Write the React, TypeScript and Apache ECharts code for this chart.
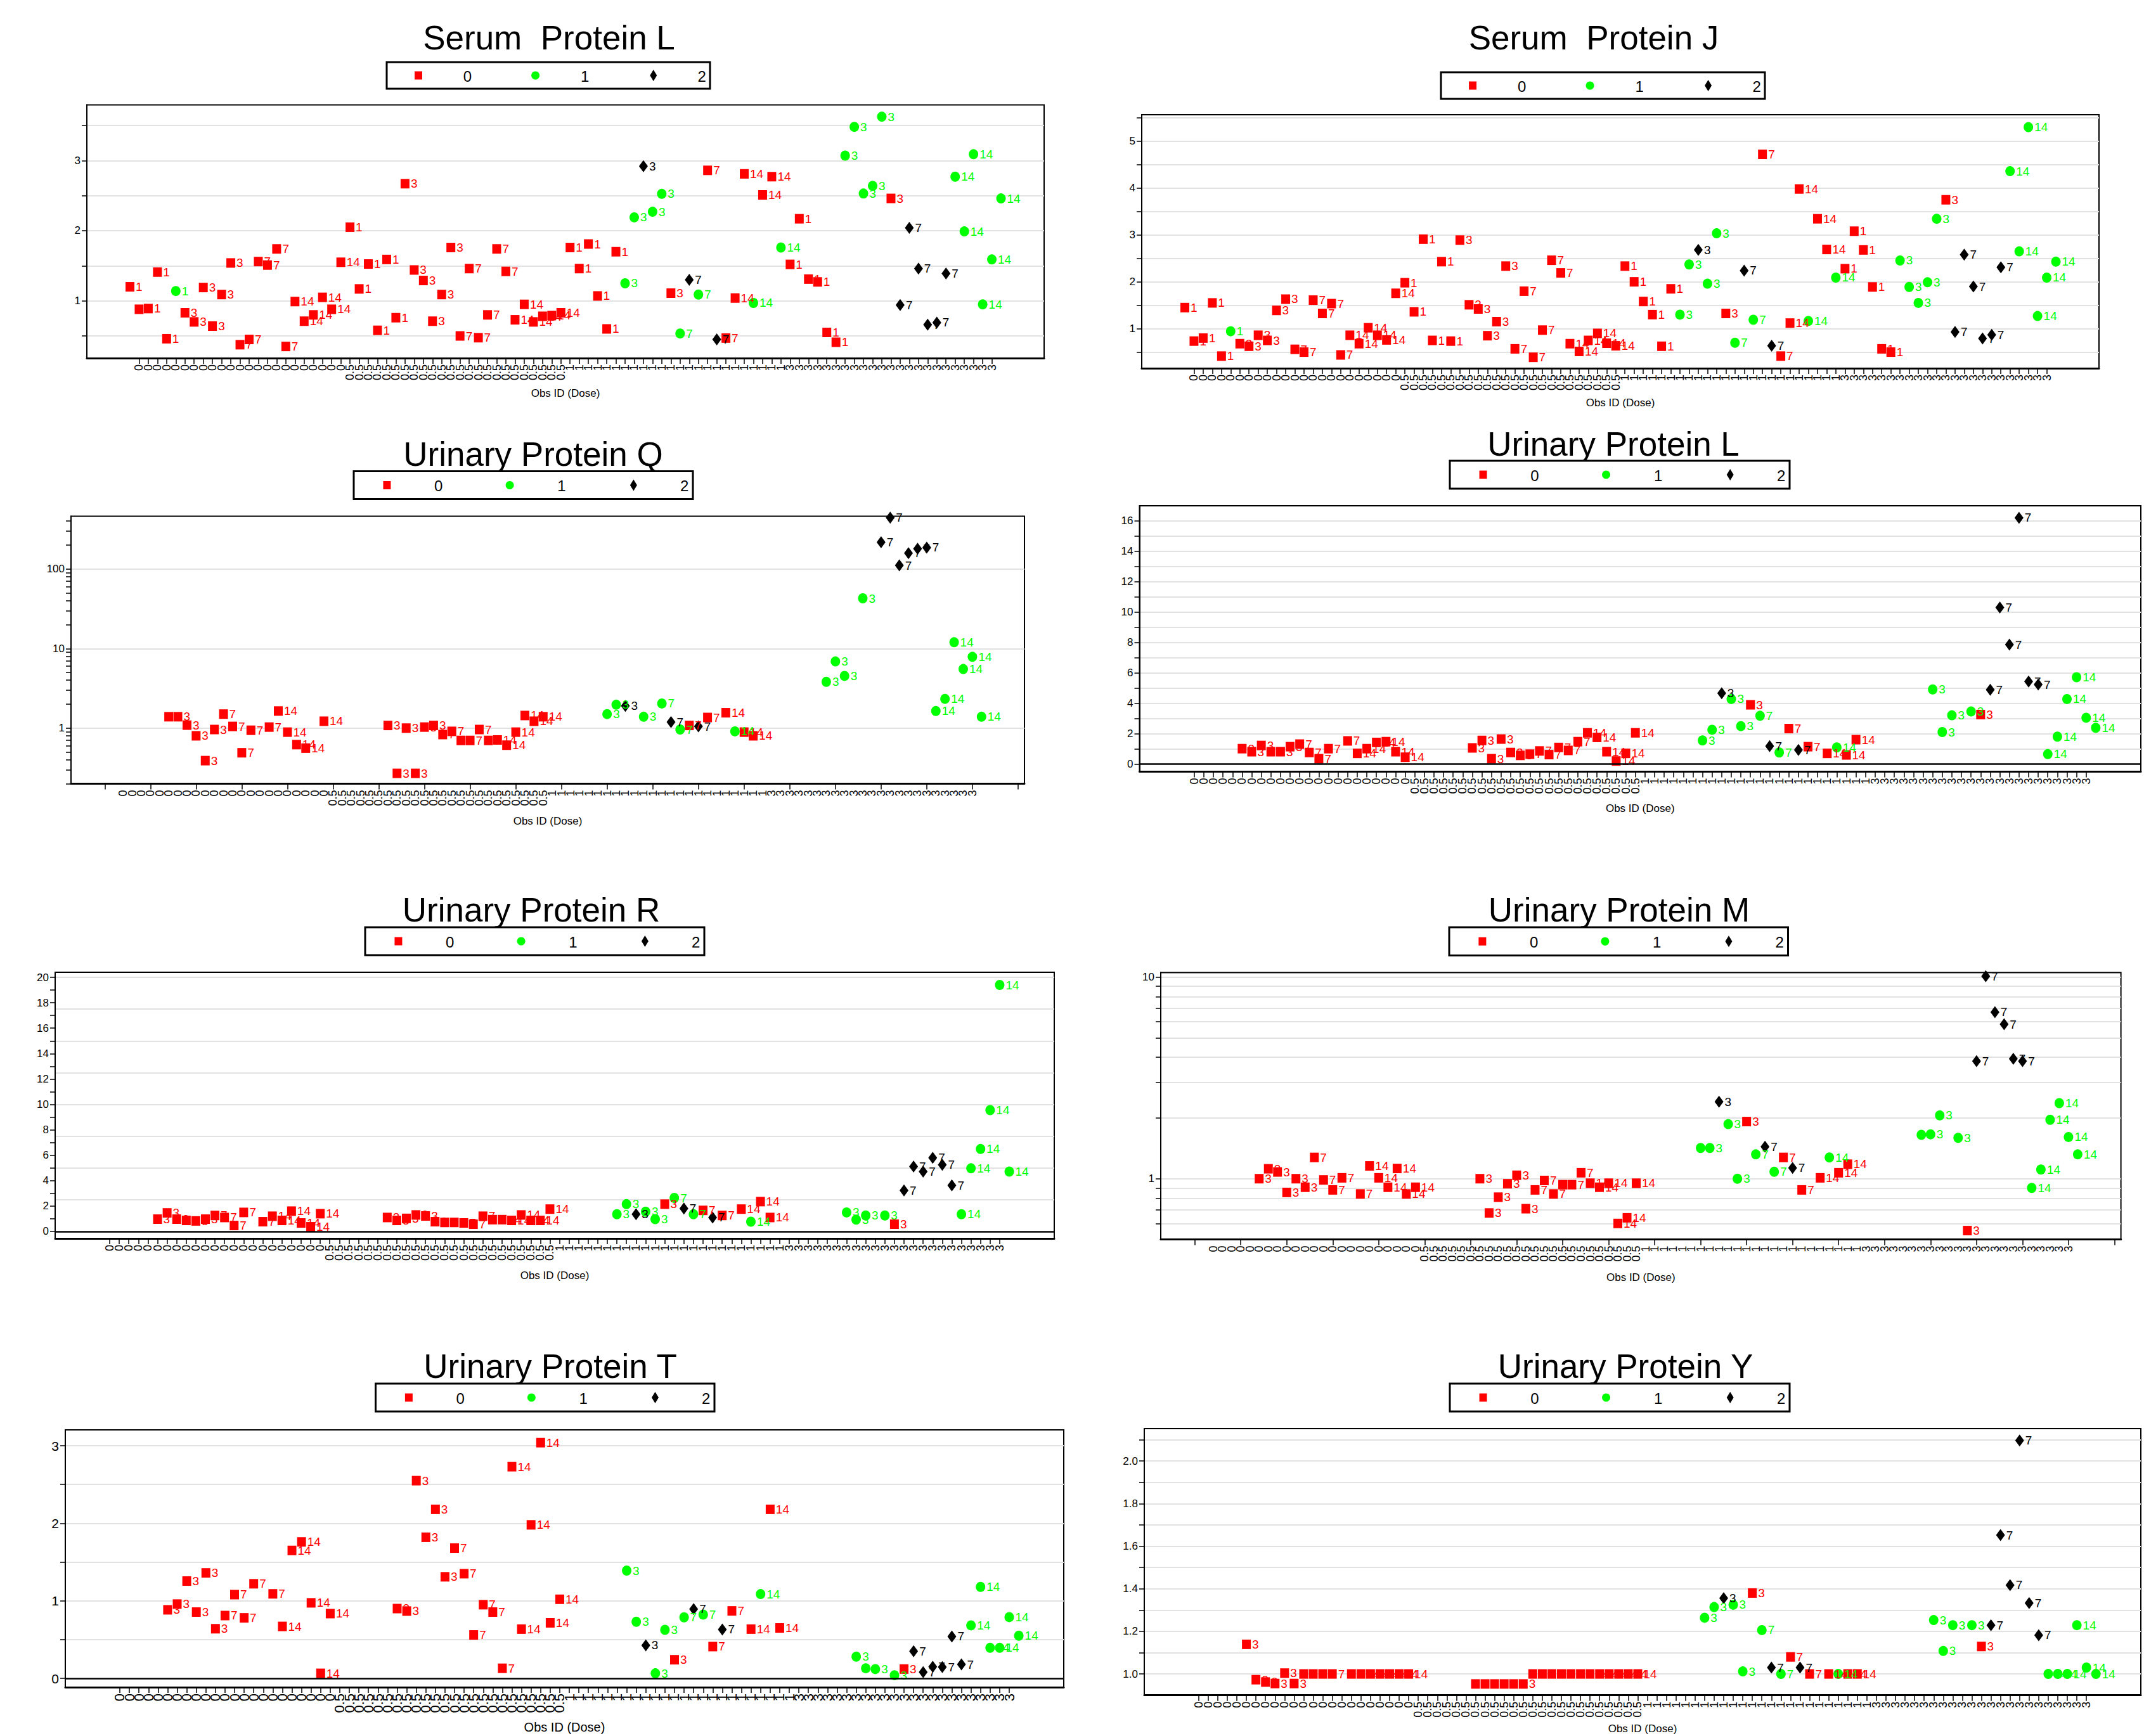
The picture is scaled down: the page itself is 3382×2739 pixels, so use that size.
import React, { useEffect, useRef } from "react";
import * as echarts from "echarts";

// ---------- categories ----------
const doseLevels = ["0", "0.5", "1", "3"];
const studyDays = [1, 3, 7, 14];
const animalsPerDay = 6;
const perDose = studyDays.length * animalsPerDay;
const obsCount = doseLevels.length * perDose;
const obsDose = Array.from({ length: obsCount }, (_, i) => doseLevels[Math.floor(i / perDose)]);
const obsDay = Array.from({ length: obsCount }, (_, i) => studyDays[Math.floor((i % perDose) / animalsPerDay)]);
const slotIdx = Array.from({ length: obsCount }, (_, i) => i);
const sparseXTicks = Array.from({ length: 21 }, (_, k) => 5 * k - 1);

// grade group of each observation (0 red square, 1 green circle, 2 black diamond)
const obsGroup = [
  0, 0, 0, 0, 0, 1, 0, 0, 0, 0, 0, 0, 0, 0, 0, 0, 0, 0, 0, 0, 0, 0, 0, 0,
  0, 0, 0, 0, 0, 0, 0, 0, 0, 0, 0, 0, 0, 0, 0, 0, 0, 0, 0, 0, 0, 0, 0, 0,
  0, 0, 0, 0, 0, 0, 1, 1, 2, 1, 1, 0, 1, 2, 1, 0, 2, 0, 0, 0, 1, 0, 0, 1,
  0, 0, 0, 0, 0, 0, 1, 1, 1, 1, 1, 0, 2, 2, 2, 2, 2, 2, 1, 1, 1, 1, 1, 1,
];

// ---------- values ----------
const serumLValues = [
  1.20, 0.88, 0.89, 1.41, 0.46, 1.14, 0.83, 0.70, 1.19, 0.64, 1.09, 1.54, 0.375, 0.45, 1.56, 1.51, 1.74, 0.35, 0.99, 0.71, 0.80, 1.05, 0.88, 1.55,
  2.05, 1.17, 1.525, 0.58, 1.59, 0.76, 2.67, 1.44, 1.29, 0.71, 1.09, 1.76, 0.50, 1.46, 0.475, 0.80, 1.74, 1.42, 0.73, 0.95, 0.70, 0.78, 0.79, 0.83,
  1.76, 1.46, 1.81, 1.07, 0.60, 1.70, 1.25, 2.19, 2.92, 2.27, 2.525, 1.11, 0.535, 1.30, 1.09, 2.86, 0.45, 0.47, 1.04, 2.81, 0.97, 2.51, 2.77, 1.76,
  1.52, 2.17, 1.31, 1.27, 0.55, 0.41, 3.07, 3.48, 2.53, 2.64, 3.625, 2.46, 0.94, 2.04, 1.46, 0.66, 0.69, 1.39, 2.77, 1.99, 3.09, 0.95, 1.59, 2.46,
];
const serumJValues = [
  1.45, 0.735, 0.80, 1.55, 0.415, 0.945, 0.68, 0.625, 0.86, 0.75, 1.39, 1.63, 0.56, 0.50, 1.61, 1.325, 1.535, 0.44, 0.86, 0.68, 1.02, 0.86, 0.76, 1.755,
  1.98, 1.36, 2.91, 0.75, 2.43, 0.735, 2.89, 1.51, 1.42, 0.85, 1.15, 2.335, 0.57, 1.80, 0.39, 0.97, 2.46, 2.19, 0.68, 0.515, 0.75, 0.90, 0.69, 0.635,
  2.335, 2.00, 1.58, 1.30, 0.625, 1.85, 1.30, 2.37, 2.68, 1.96, 3.035, 1.325, 0.70, 2.24, 1.19, 4.72, 0.635, 0.415, 1.12, 3.98, 1.165, 3.345, 2.69, 2.09,
  2.28, 3.08, 2.68, 1.89, 0.57, 0.50, 2.455, 1.89, 1.55, 1.99, 3.345, 3.75, 0.93, 2.58, 1.90, 0.79, 0.87, 2.31, 4.36, 2.65, 5.30, 1.27, 2.09, 2.43,
];
const urinaryQValues = [
  null, null, null, null, null, null, 1.39, 1.39, 1.09, 0.80, 0.39, 0.96, 1.50, 1.05, 0.49, 0.94, null, 1.03, 1.64, 0.89, 0.62, 0.56, null, 1.22,
  null, null, null, null, null, null, 1.08, 0.27, 1.00, 0.27, 1.03, 1.08, 0.83, 0.91, 0.70, 0.70, 0.96, 0.70, 0.71, 0.61, 0.89, 1.44, 1.22, 1.39,
  null, null, null, null, null, null, 1.50, 1.97, 1.90, null, 1.39, null, 2.04, 1.19, 0.96, 1.08, 1.05, 1.36, null, 1.56, 0.91, 0.89, 0.80, null,
  null, null, null, null, null, null, 3.82, 6.89, 4.53, null, 42.8, null, 217, 443, 111, 158, 180, 186, 1.64, 2.33, 12.0, 5.53, 7.87, 1.39,
];
const urinaryLValues = [
  null, null, null, null, null, null, 1.02, 0.82, 1.23, 0.82, 0.82, 1.15, 1.32, 0.77, 0.36, 1.02, null, 1.53, 0.71, 1.02, 1.43, 1.48, 0.82, 0.46,
  null, null, null, null, null, null, 1.07, 1.56, 0.36, 1.65, 0.77, 0.58, 0.66, 0.87, 0.63, 1.10, 0.905, 1.48, 2.06, 1.76, 0.82, 0.21, 0.71, 2.06,
  null, null, null, null, null, null, 1.56, 2.26, 4.66, 4.28, 2.50, 3.90, 3.18, 1.19, 0.77, 2.34, 0.94, 1.15, null, 0.71, 1.10, 0.61, 1.61, null,
  null, null, null, null, null, null, 4.91, 2.11, 3.21, null, 3.46, 3.26, 4.89, 10.29, 7.85, 16.18, 5.43, 5.23, 0.66, 1.81, 4.28, 5.71, 3.05, 2.39,
];
const urinaryRValues = [
  null, null, null, null, null, null, 0.97, 1.46, 0.97, 0.87, 0.83, 0.97, 1.26, 1.10, 0.47, 1.50, null, 0.77, 1.20, 0.87, 1.60, 0.67, 0.37, 1.40,
  null, null, null, null, null, null, 1.10, 0.87, 1.03, 1.30, 1.22, 0.77, 0.71, 0.71, 0.67, 0.57, 1.20, 0.93, 0.93, 0.87, 1.30, 0.87, 0.87, 1.76,
  null, null, null, null, null, null, 1.36, 2.15, 1.36, 1.56, 0.97, 2.15, 2.64, 1.81, 1.36, 1.66, 1.10, 1.26, null, 1.76, 0.77, 2.35, 1.10, null,
  null, null, null, null, null, null, 1.50, 0.93, 1.26, null, 1.26, 0.57, 3.23, 5.11, 4.71, 5.80, 5.25, 3.63, 1.36, 4.97, 6.49, 9.55, 19.4, 4.71,
];
const urinaryMValues = [
  null, null, null, null, null, null, 1.00, 1.12, 1.08, 0.855, 1.00, 0.907, 1.275, 0.986, 0.88, 1.01, null, 0.84, 1.157, 1.01, 0.907, 1.124, 0.84, 0.907,
  null, null, null, null, null, null, 1.00, 0.676, 0.81, 0.944, 1.04, 0.71, 0.88, 0.98, 0.84, 0.934, 0.934, 1.07, 0.95, 0.907, 0.95, 0.60, 0.64, 0.95,
  null, null, null, null, null, null, 1.42, 1.42, 2.41, 1.865, 1.00, 1.92, 1.32, 1.44, 1.083, 1.275, 1.13, 0.88, null, 1.01, 1.275, 1.07, 1.18, null,
  null, null, null, null, null, null, 1.65, 1.66, 2.06, null, 1.594, 0.553, 3.83, 10.1, 6.7, 5.83, 3.93, 3.83, 0.90, 1.11, 1.96, 2.37, 1.61, 1.32,
];
const urinaryTValues = [
  null, null, null, null, null, null, 0.884, 0.958, 1.255, 0.855, 1.36, 0.64, 0.81, 1.08, 0.78, 1.22, null, 1.09, 0.67, 1.65, 1.76, 0.974, 0.065, 0.835,
  null, null, null, null, null, null, 0.90, 0.868, 2.55, 1.82, 2.18, 1.31, 1.68, 1.35, 0.56, 0.95, 0.855, 0.13, 2.73, 0.635, 1.98, 3.04, 0.716, 1.02,
  null, null, null, null, null, null, 1.39, 0.73, 0.426, 0.065, 0.626, 0.24, 0.787, 0.894, 0.823, 0.41, 0.63, 0.87, null, 0.635, 1.087, 2.18, 0.65, null,
  null, null, null, null, null, null, 0.28, 0.13, 0.12, null, 0.04, 0.12, 0.35, 0.08, 0.15, 0.145, 0.54, 0.18, 0.684, 1.18, 0.394, 0.394, 0.79, 0.55,
];
const urinaryYValues = [
  null, null, null, null, null, null, 1.139, 0.973, 0.962, 0.955, 1.004, 0.955, 1.0, 1.0, 1.0, 1.0, null, 1.0, 1.0, 1.0, 1.0, 1.0, 1.0, 1.0,
  null, null, null, null, null, null, 0.953, 0.953, 0.953, 0.953, 0.953, 0.953, 1.0, 1.0, 1.0, 1.0, 1.0, 1.0, 1.0, 1.0, 1.0, 1.0, 1.0, 1.0,
  null, null, null, null, null, null, 1.264, 1.314, 1.356, 1.325, 1.012, 1.38, 1.206, 1.03, 1.0, 1.08, 1.03, 1.0, null, 1.0, 1.0, 1.0, 1.0, null,
  null, null, null, null, null, null, 1.253, 1.108, 1.229, null, 1.229, 1.129, 1.229, 1.652, 1.417, 2.096, 1.333, 1.182, 1.0, 1.0, 1.0, 1.229, 1.03, 1.0,
];

// ---------- y tick / label / grid values ----------
const serumLTicks = [0.5, 1, 1.5, 2, 2.5, 3, 3.5];
const serumLLabels = [1, 2, 3];
const serumJTicks = [0.5, 1, 1.5, 2, 2.5, 3, 3.5, 4, 4.5, 5, 5.5];
const serumJLabels = [1, 2, 3, 4, 5];
const qTicks = [0.2, 0.3, 0.4, 0.5, 0.6, 0.7, 0.8, 0.9, 1, 2, 3, 4, 5, 6, 7, 8, 9, 10, 20, 30, 40, 50, 60, 70, 80, 90, 100, 200, 300, 400];
const qLabels = [1, 10, 100];
const qGrid = [1, 10, 100];
const uLTicks = [0, 1, 2, 3, 4, 5, 6, 7, 8, 9, 10, 11, 12, 13, 14, 15, 16];
const uLLabels = [0, 2, 4, 6, 8, 10, 12, 14, 16];
const uLGrid = [1, 2, 3, 4, 5, 6, 7, 8, 9, 10, 11, 12, 13, 14, 15, 16];
const rTicks = [0, 1, 2, 3, 4, 5, 6, 7, 8, 9, 10, 11, 12, 13, 14, 15, 16, 17, 18, 19, 20];
const rLabels = [0, 2, 4, 6, 8, 10, 12, 14, 16, 18, 20];
const rGrid = [2.5, 5, 7.5, 10, 12.5, 15, 17.5, 20];
const mTicks = [0.6, 0.7, 0.8, 0.9, 1, 2, 3, 4, 5, 6, 7, 8, 9, 10];
const mLabels = [1, 10];
const tTicks = [0, 0.5, 1, 1.5, 2, 2.5, 3];
const tLabels = [0, 1, 2, 3];
const tGrid = [0.5, 1, 1.5, 2, 2.5, 3];
const yTicks = [1.0, 1.1, 1.2, 1.3, 1.4, 1.5, 1.6, 1.7, 1.8, 1.9, 2.0, 2.1];
const yLabels = [1.0, 1.2, 1.4, 1.6, 1.8, 2.0];

// ---------- styling ----------
const W = 3382;
const H = 2739;
const FONT = "'Liberation Sans', Arial, Helvetica, sans-serif";
const COLORS = ["#ff0000", "#00ff00", "#000000"];
const SYMBOLS = ["rect", "circle", "diamond"];
const SIZES = [[14, 15], [15, 16], [14, 19]];
const GRID_COLOR = "#e2e2e2";

type Panel = {
  title: string;
  values: (number | null)[];
  yType: "value" | "log";
  yMin: number;
  yMax: number;
  yTicks: number[];
  yLabels: number[];
  yGrid: number[];
  yFmt?: (v: number) => string;
  zero: boolean;
  frame: [number, number, number, number];
  titleXY: [number, number];
  legend: [number, number, number, number];
  xTicks: number[];
  xFont: number;
  yFont: number;
  nameFont: number;
  nameGap: number;
};

const panels: Panel[] = [
  { title: "Serum  Protein L", values: serumLValues, yType: "value", yMin: 0.184, yMax: 3.793, yTicks: serumLTicks, yLabels: serumLLabels, yGrid: serumLTicks, zero: false,
    frame: [137, 165.5, 1647, 565], titleXY: [866, 59.5], legend: [610, 98, 510, 42], xTicks: slotIdx, xFont: 18, yFont: 17, nameFont: 17, nameGap: 47 },
  { title: "Serum  Protein J", values: serumJValues, yType: "value", yMin: 0.156, yMax: 5.565, yTicks: serumJTicks, yLabels: serumJLabels, yGrid: serumJTicks, zero: false,
    frame: [1801, 181, 3311, 581], titleXY: [2514, 59.5], legend: [2273, 114, 511, 42], xTicks: slotIdx, xFont: 18, yFont: 17, nameFont: 17, nameGap: 46 },
  { title: "Urinary Protein Q", values: urinaryQValues, yType: "log", yMin: 0.2, yMax: 460, yTicks: qTicks, yLabels: qLabels, yGrid: qGrid, zero: false,
    frame: [112, 814.6, 1616, 1236.5], titleXY: [841, 716], legend: [558, 743.5, 535, 44], xTicks: sparseXTicks, xFont: 18, yFont: 17, nameFont: 17, nameGap: 50 },
  { title: "Urinary Protein L", values: urinaryLValues, yType: "value", yMin: -0.49, yMax: 16.97, yTicks: uLTicks, yLabels: uLLabels, yGrid: uLGrid, zero: true,
    frame: [1797.5, 798, 3377, 1217.5], titleXY: [2545, 700.5], legend: [2287, 727, 536, 44], xTicks: slotIdx, xFont: 18, yFont: 17, nameFont: 17, nameGap: 49 },
  { title: "Urinary Protein R", values: urinaryRValues, yType: "value", yMin: -0.55, yMax: 20.4, yTicks: rTicks, yLabels: rLabels, yGrid: rGrid, zero: true,
    frame: [87, 1534, 1663, 1954], titleXY: [838, 1435.5], legend: [576, 1463, 535, 44], xTicks: slotIdx, xFont: 18, yFont: 17, nameFont: 17, nameGap: 50 },
  { title: "Urinary Protein M", values: urinaryMValues, yType: "log", yMin: 0.5, yMax: 10.53, yTicks: mTicks, yLabels: mLabels, yGrid: mTicks, zero: false,
    frame: [1831, 1534.4, 3345.6, 1955.5], titleXY: [2554, 1435.5], legend: [2286, 1463, 534.5, 44.5], xTicks: sparseXTicks, xFont: 18, yFont: 17, nameFont: 17, nameGap: 51 },
  { title: "Urinary Protein T", values: urinaryTValues, yType: "value", yMin: -0.114, yMax: 3.205, yTicks: tTicks, yLabels: tLabels, yGrid: tGrid, zero: true,
    frame: [103, 2256, 1678, 2662], titleXY: [868, 2155.5], legend: [592.5, 2183, 534.5, 44], xTicks: slotIdx, xFont: 22, yFont: 21, nameFont: 20, nameGap: 53 },
  { title: "Urinary Protein Y", values: urinaryYValues, yType: "value", yMin: 0.9, yMax: 2.152, yTicks: yTicks, yLabels: yLabels, yGrid: yTicks, zero: false,
    yFmt: (v: number) => v.toFixed(1),
    frame: [1805, 2254, 3377, 2674.7], titleXY: [2564, 2155.5], legend: [2287, 2183, 536, 44], xTicks: slotIdx, xFont: 18, yFont: 17, nameFont: 17, nameGap: 44 },
];

function textStyle(text: string, size: number, align = "center") {
  return {
    text,
    fontSize: size,
    fontFamily: FONT,
    fill: "#000",
    align,
    textAlign: align,
    verticalAlign: "middle",
    textVerticalAlign: "middle",
  };
}

function legendElements(box: [number, number, number, number]) {
  const [x, y, w, h] = box;
  const cy = y + h / 2;
  const fr = [0.098, 0.25, 0.46, 0.613, 0.825, 0.975];
  const dx = x + fr[4] * w;
  return [
    { type: "rect", shape: { x, y, width: w, height: h }, style: { fill: "#fff", stroke: "#000", lineWidth: 3 } },
    { type: "rect", shape: { x: x + fr[0] * w - 6, y: cy - 6.5, width: 12, height: 13 }, style: { fill: COLORS[0] } },
    { type: "text", x: x + fr[1] * w, y: cy + 1, style: textStyle("0", 24) },
    { type: "circle", shape: { cx: x + fr[2] * w, cy, r: 6.5 }, style: { fill: COLORS[1] } },
    { type: "text", x: x + fr[3] * w, y: cy + 1, style: textStyle("1", 24) },
    { type: "polygon", shape: { points: [[dx, cy - 9], [dx + 5.5, cy], [dx, cy + 9], [dx - 5.5, cy]] }, style: { fill: COLORS[2] } },
    { type: "text", x: x + fr[5] * w, y: cy + 1, style: textStyle("2", 24) },
  ];
}

function buildOption() {
  const grid: any[] = [];
  const xAxis: any[] = [];
  const yAxis: any[] = [];
  const series: any[] = [];
  const elements: any[] = [];

  panels.forEach((p, k) => {
    const [L, T, R, B] = p.frame;
    grid.push({
      left: L, top: T, width: R - L, height: B - T,
      show: true, borderColor: "#000", borderWidth: 2, backgroundColor: "transparent",
      containLabel: false, outerBoundsMode: "none",
    });
    xAxis.push({
      type: "value", gridIndex: k, min: -4.7, max: 99.7,
      axisLine: { show: true, onZero: false, lineStyle: { color: "#000", width: 3 } },
      axisTick: { show: true, customValues: p.xTicks, length: 9, lineStyle: { color: "#000", width: 1.5 } },
      axisLabel: {
        show: true, customValues: slotIdx, rotate: 90, margin: 10,
        formatter: (v: number) => obsDose[Math.round(v)] ?? "",
        fontSize: p.xFont, color: "#000", fontFamily: FONT,
      },
      splitLine: { show: false },
      name: "Obs ID (Dose)", nameLocation: "middle", nameGap: p.nameGap,
      nameTextStyle: { fontSize: p.nameFont, color: "#000", fontFamily: FONT },
    });
    // visible y axis
    yAxis.push({
      type: p.yType, logBase: 10, gridIndex: k, min: p.yMin, max: p.yMax,
      axisLine: { show: true, onZero: false, lineStyle: { color: "#000", width: 2 } },
      axisTick: { show: true, customValues: p.yTicks, length: 8, lineStyle: { color: "#000", width: 1.5 } },
      axisLabel: {
        show: true, customValues: p.yLabels, margin: 10,
        formatter: p.yFmt ? p.yFmt : (v: number) => String(v),
        fontSize: p.yFont, color: "#000", fontFamily: FONT,
      },
      splitLine: { show: false },
    });
    // invisible axis carrying the grid lines
    yAxis.push({
      type: p.yType, logBase: 10, gridIndex: k, min: p.yMin, max: p.yMax, position: "left",
      axisLine: { show: false },
      axisTick: { show: false, customValues: p.yGrid },
      axisLabel: { show: false },
      splitLine: { show: true, lineStyle: { color: GRID_COLOR, width: 2 } },
    });

    [0, 1, 2].forEach((g) => {
      const data: any[] = [];
      p.values.forEach((v, i) => {
        if (v !== null && obsGroup[i] === g) data.push([i, v, obsDay[i]]);
      });
      const s: any = {
        type: "scatter",
        name: String(g),
        xAxisIndex: k,
        yAxisIndex: 2 * k,
        data,
        symbol: SYMBOLS[g],
        symbolSize: SIZES[g],
        itemStyle: { color: COLORS[g], opacity: 1 },
        label: {
          show: true, position: "right", distance: 2,
          formatter: (q: any) => String(q.value[2]),
          color: COLORS[g], fontSize: 19, fontFamily: FONT,
        },
        emphasis: { disabled: true },
        z: 3,
      };
      if (g === 0 && p.zero) {
        s.markLine = {
          silent: true, symbol: ["none", "none"], label: { show: false },
          lineStyle: { color: "#000", width: 2.5, type: "solid" },
          data: [{ yAxis: 0 }],
          animation: false,
        };
      }
      series.push(s);
    });

    elements.push({ type: "text", x: p.titleXY[0], y: p.titleXY[1], style: textStyle(p.title, 53) });
    elements.push(...legendElements(p.legend));
  });

  return {
    animation: false,
    backgroundColor: "#fff",
    textStyle: { fontFamily: FONT },
    grid,
    xAxis,
    yAxis,
    series,
    graphic: { elements },
  };
}

export default function App() {
  const ref = useRef<HTMLDivElement>(null);
  useEffect(() => {
    if (!ref.current) return;
    const chart = echarts.init(ref.current, undefined, { renderer: "svg", width: W, height: H });
    chart.setOption(buildOption() as any);
    return () => {
      chart.dispose();
    };
  }, []);
  return (
    <div
      ref={ref}
      style={{ position: "fixed", left: 0, top: 0, width: W, height: H, background: "#fff" }}
    />
  );
}
